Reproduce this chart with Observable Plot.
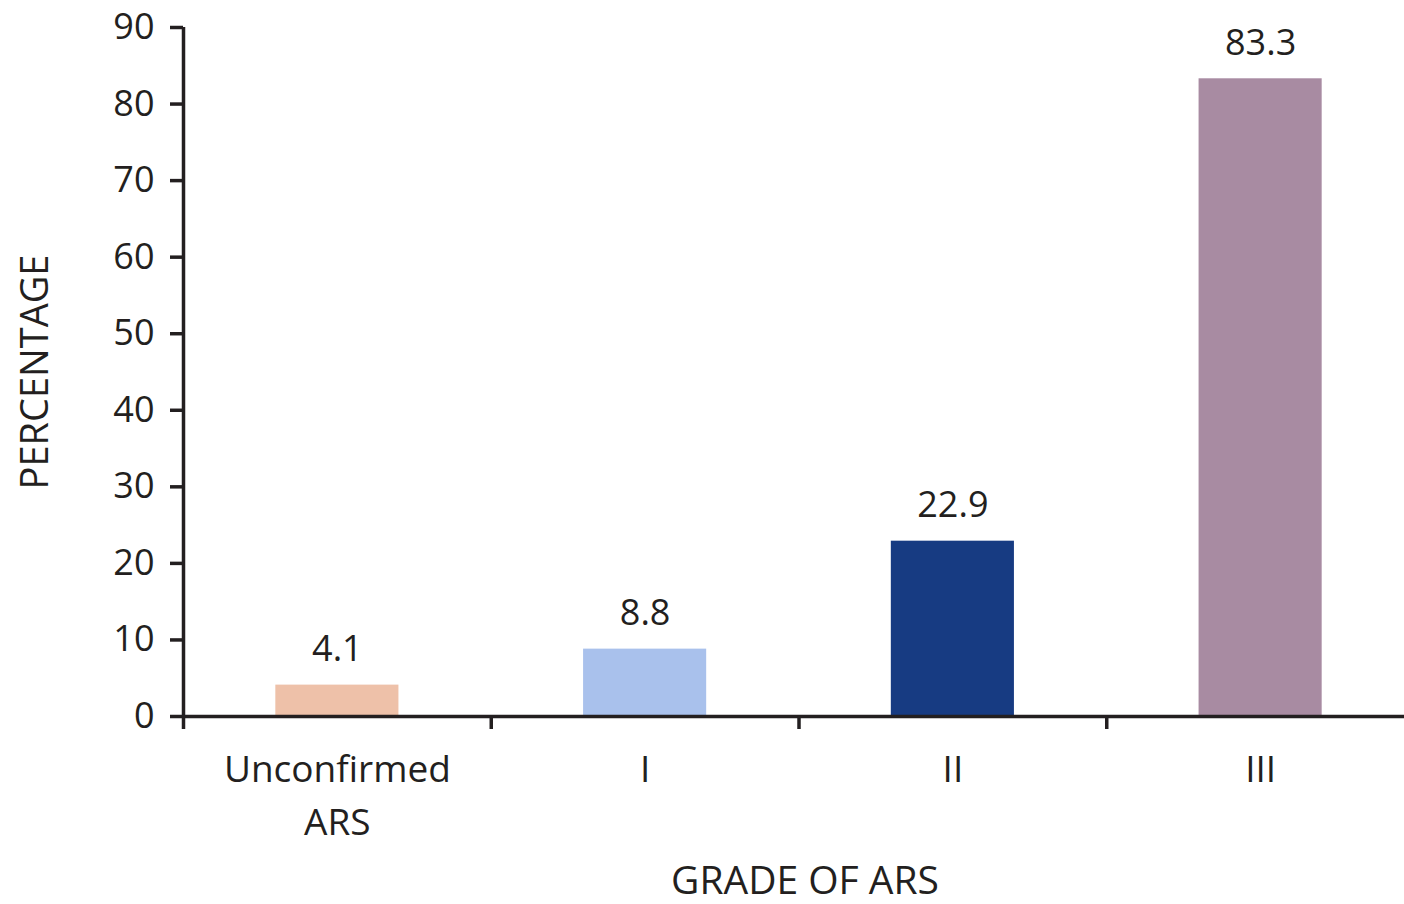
<!DOCTYPE html>
<html>
<head>
<meta charset="utf-8">
<script src="https://cdn.jsdelivr.net/npm/d3@7"></script>
<script src="https://cdn.jsdelivr.net/npm/@observablehq/plot@0.6"></script>
<style>
  html, body { margin: 0; padding: 0; background: #fff; overflow: hidden; }
  #chart { width: 1404px; height: 904px; }
</style>
</head>
<body>
<div id="chart"></div>
<script>
const categories = ["Unconfirmed\nARS", "I", "II", "III"];
const values = [4.1, 8.8, 22.9, 83.3];
const colors = ["#EEC1A9", "#A9C1EC", "#173B82", "#A88BA2"];
const yTicks = [0, 10, 20, 30, 40, 50, 60, 70, 80, 90];
const xLabel = "GRADE OF ARS";
const yLabel = "PERCENTAGE";

const data = categories.map((c, i) => ({category: c, value: values[i], color: colors[i], index: i}));
const boundaries = d3.range(categories.length + 1);
const ink = "#231f20";

const chart = Plot.plot({
  width: 1404,
  height: 904,
  marginTop: 27,
  marginBottom: 188,
  marginLeft: 183,
  marginRight: 0,
  style: {fontFamily: "'Open Sans', sans-serif", fontSize: "36px", color: ink, background: "#fff"},
  x: {domain: [0, categories.length], range: [183, 1414], axis: null},
  y: {domain: [0, 90], axis: null},
  marks: [
    Plot.rectY(data, {x1: d => d.index + 0.3, x2: d => d.index + 0.7, y: "value", fill: "color"}),
    Plot.text(data, {x: d => d.index + 0.5, y: "value", text: d => d3.format(".1f")(d.value), dy: -24, lineAnchor: "bottom", fill: ink, fontSize: 36}),
    Plot.text(data, {x: d => d.index + 0.5, y: 0, text: "category", dy: 28, lineAnchor: "top", lineHeight: 1.43, fill: ink, fontSize: 37}),
    Plot.ruleX([0], {y1: 0, y2: 90, stroke: ink, strokeWidth: 3.5}),
    Plot.ruleY([0], {x1: 0, x2: categories.length, stroke: ink, strokeWidth: 3.5}),
    Plot.axisY({ticks: yTicks, tickSize: 13, tickPadding: 16, stroke: ink, strokeWidth: 3.5, fill: ink, fontSize: 36, label: null}),
    Plot.axisX({ticks: boundaries, tickSize: 13, tickFormat: () => "", stroke: ink, strokeWidth: 3.5, label: null}),
    Plot.text([yLabel], {frameAnchor: "left", textAnchor: "middle", lineAnchor: "middle", dx: -148, rotate: -90, fill: ink, fontSize: 38}),
    Plot.text([xLabel], {frameAnchor: "bottom", lineAnchor: "bottom", dx: 11, dy: 177, fill: ink, fontSize: 39})
  ]
});
document.getElementById("chart").appendChild(chart);
</script>
</body>
</html>
